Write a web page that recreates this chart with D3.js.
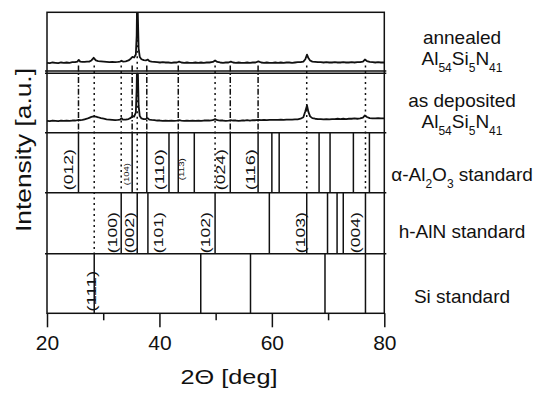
<!DOCTYPE html>
<html>
<head>
<meta charset="utf-8">
<script src="https://cdn.jsdelivr.net/npm/d3@7"></script>
<style>
  body { margin: 0; background: #fff; }
  svg { display: block; }
  text { font-family: "Liberation Sans", Arial, Helvetica, sans-serif; fill: #111; }
</style>
</head>
<body>
<svg id="chart" width="540" height="398"></svg>
<script>
// Diffraction angle grid (deg) shared by both measured patterns
const twoTheta = [20, 20.5, 21, 21.5, 22, 22.5, 23, 23.5, 24, 24.5,
  25, 25.4, 25.65, 25.9, 26.3, 26.7, 27.1, 27.5, 27.9, 28.3,
  28.7, 29.1, 29.6, 30.1, 30.6, 31.1, 31.6, 32.1, 32.6, 33.0,
  33.25, 33.5, 34.0, 34.5, 34.9, 35.2, 35.5, 35.8, 35.95, 36.05,
  36.15, 36.3, 36.5, 36.8, 37.2, 37.6, 37.9, 38.2, 38.6, 39.1,
  39.6, 40.1, 40.6, 41.1, 41.6, 42.1, 42.6, 43.1, 43.5, 43.9,
  44.4, 44.9, 45.4, 45.9, 46.4, 46.9, 47.4, 47.9, 48.4, 48.9,
  49.5, 49.9, 50.3, 50.8, 51.3, 51.8, 52.3, 52.7, 53.1, 53.6,
  54.1, 54.6, 55.1, 55.6, 56.1, 56.6, 57.1, 57.6, 58.1, 58.6,
  59.1, 59.6, 60.1, 60.6, 61.1, 61.6, 62.1, 62.6, 63.1, 63.6,
  64.1, 64.6, 65.1, 65.6, 65.95, 66.25, 66.5, 66.8, 67.2, 67.7,
  68.2, 68.7, 69.2, 69.7, 70.2, 70.7, 71.2, 71.7, 72.2, 72.7,
  73.2, 73.7, 74.2, 74.7, 75.2, 75.7, 76.2, 76.55, 76.9, 77.4,
  77.9, 78.4, 78.9, 79.4, 80];

// Annealed Al54Si5N41 (a.u.)
const annealed = [14, 13.5, 14.5, 14, 13.5, 14.5, 14, 14.5, 14, 15,
  15, 16, 19, 16, 15.5, 15.5, 16, 16, 18, 22.5,
  18, 17, 16.5, 16, 15.5, 15, 15.5, 15, 15.5, 16,
  17.5, 16, 16.5, 18, 21, 24, 23, 28, 60, 140,
  100, 38, 24, 20, 18.5, 18, 19.5, 17, 16, 15.5,
  15, 14.5, 15, 14.5, 14.5, 14, 14.5, 14.5, 16, 14.5,
  14, 14.5, 14, 14, 14.5, 14, 14.5, 14, 14.5, 14.5,
  15.5, 18, 15.5, 14.5, 14, 14.5, 14.5, 16, 14.5, 14,
  14.5, 14, 14, 14.5, 14, 14.5, 14.5, 16.5, 14.5, 14,
  14.5, 14, 14, 14.5, 14, 14.5, 14, 14.5, 14.5, 14,
  14.5, 15, 15, 16, 20, 28, 22, 18, 16, 15.5,
  15, 15, 14.5, 15, 14.5, 14.5, 15, 14.5, 14.5, 15,
  14.5, 14.5, 15, 14.5, 15, 15, 16, 19.5, 17, 15.5,
  15, 14.5, 15, 14.5, 14.5];

// As-deposited Al54Si5N41 (a.u.)
const asDeposited = [20, 19.5, 20.5, 20, 19.5, 20.5, 20, 20.5, 20, 20.5,
  20.5, 21, 21.5, 21, 21.5, 22.5, 23.5, 25, 26.5, 27.5,
  27, 26, 24.5, 23.5, 22.5, 22, 21.5, 21, 21.5, 22,
  24.5, 22, 22, 23, 25, 28, 27, 34, 75, 140,
  110, 45, 28, 24, 23, 23, 24.5, 22, 21.5, 21,
  20.5, 20.5, 20, 20.5, 20, 20.5, 20, 20.5, 21, 20.5,
  20, 20.5, 20, 20.5, 20, 20.5, 20, 20.5, 20.5, 20.5,
  21, 23, 21, 20.5, 20.5, 20, 20.5, 21, 20.5, 20.5,
  20, 20.5, 20.5, 21, 20.5, 21, 21, 21.5, 21, 21.5,
  21, 21.5, 21.5, 21.5, 21.5, 22, 21.5, 22, 22, 22,
  22.5, 22.5, 23.5, 26, 36, 46, 35, 27.5, 24.5, 23.5,
  23, 23, 22.5, 23, 22.5, 23, 23, 23.5, 23, 23.5,
  23, 23.5, 23.5, 24, 23.5, 24, 25.5, 29, 26.5, 24.5,
  24, 24, 24.5, 24, 24];

// Reference line positions (deg)
const aluminaLines = [25.6, 35.15, 37.75, 41.7, 43.35, 46.2, 52.6, 57.55, 60.0, 61.3, 68.4, 70.35, 74.5, 77.35];
const alnLines = [33.2, 36.05, 37.95, 49.9, 59.55, 66.2, 69.9, 71.6, 72.7, 76.65];
const siLines = [28.4, 47.35, 56.2, 69.45, 76.65];

// Miller indices and where they sit (deg)
const aluminaHkl = ["(012)", "(104)", "(110)", "(113)", "(024)", "(116)"];
const aluminaHklAt = [23.8, 34.05, 39.9, 43.95, 50.8, 56.05];
const aluminaHklMinor = [false, true, false, true, false, false];
const alnHkl = ["(100)", "(002)", "(101)", "(102)", "(103)", "(004)"];
const alnHklAt = [31.5, 34.6, 39.75, 48.2, 65.0, 74.8];
const siHkl = ["(111)"];
const siHklAt = [27.8];

// Guide lines tying measured peaks to reference lines
const guideAt = [25.6, 28.4, 33.2, 35.15, 36.05, 37.75, 43.35, 49.9, 52.6, 57.55, 66.2, 76.65];
const guideTo = ["alumina", "si", "aln", "alumina", "aln", "alumina", "alumina", "aln", "alumina", "alumina", "aln", "aln"];
const guideFrom = ["trace", "trace", "trace", "trace", "top", "trace", "trace", "trace", "trace", "trace", "trace", "trace"];

const xMajor = [20, 40, 60, 80];
const xMinor = [30, 50, 70];

(function draw() {
  const svg = d3.select("#chart");
  const pL = 47, pR = 384.3, pT = 12.3, pB = 313.3;
  const x = d3.scaleLinear().domain([20, 80]).range([pL, pR]);

  const bands = {
    annealed: [pT, 71],
    deposited: [73.3, 132.7],
    alumina: [132.7, 192.7],
    aln: [192.7, 253.7],
    si: [253.7, 313.3]
  };

  const yAnn = d3.scaleLinear().domain([0, 100]).range([bands.annealed[1], bands.annealed[0]]);
  const yDep = d3.scaleLinear().domain([0, 100]).range([bands.deposited[1], bands.deposited[0]]);

  const defs = svg.append("defs");
  function clip(id, b) {
    defs.append("clipPath").attr("id", id)
      .append("rect").attr("x", pL - 3).attr("y", b[0]).attr("width", pR - pL + 6).attr("height", b[1] - b[0]);
  }
  clip("clipAnn", bands.annealed);
  clip("clipDep", bands.deposited);

  // Guide lines
  const dashFor = { alumina: "6,2,1.6,2", aln: "2,3.5", si: "2,3.5" };
  svg.append("g").selectAll("line").data(guideAt).join("line")
    .attr("x1", d => x(d)).attr("x2", d => x(d))
    .attr("y1", (d, i) => guideFrom[i] === "top" ? pT : 65.5)
    .attr("y2", (d, i) => bands[guideTo[i]][0])
    .attr("stroke", "#111").attr("stroke-width", 1.5)
    .attr("stroke-dasharray", (d, i) => dashFor[guideTo[i]]);

  // Reference lines
  function refLines(vals, b) {
    svg.append("g").selectAll("line").data(vals).join("line")
      .attr("x1", d => x(d)).attr("x2", d => x(d))
      .attr("y1", b[0]).attr("y2", b[1])
      .attr("stroke", "#111").attr("stroke-width", 1.5);
  }
  refLines(aluminaLines, bands.alumina);
  refLines(alnLines, bands.aln);
  refLines(siLines, bands.si);

  // Measured patterns
  const idx = twoTheta.map((t, i) => i);
  const lineAnn = d3.line().x(i => x(twoTheta[i])).y(i => yAnn(annealed[i]));
  const lineDep = d3.line().x(i => x(twoTheta[i])).y(i => yDep(asDeposited[i]));
  svg.append("path").attr("d", lineAnn(idx)).attr("clip-path", "url(#clipAnn)")
    .attr("fill", "none").attr("stroke", "#111").attr("stroke-width", 1.8).attr("stroke-linejoin", "round");
  svg.append("path").attr("d", lineDep(idx)).attr("clip-path", "url(#clipDep)")
    .attr("fill", "none").attr("stroke", "#111").attr("stroke-width", 1.8).attr("stroke-linejoin", "round");

  // Frame and panel dividers
  svg.append("rect").attr("x", pL).attr("y", pT).attr("width", pR - pL).attr("height", pB - pT)
    .attr("fill", "none").attr("stroke", "#111").attr("stroke-width", 1.5);
  const dividers = [bands.annealed[1], bands.deposited[0], bands.deposited[1], bands.alumina[1], bands.aln[1]];
  svg.append("g").selectAll("line").data(dividers).join("line")
    .attr("x1", pL - 2).attr("x2", pR + 2).attr("y1", d => d).attr("y2", d => d)
    .attr("stroke", "#111").attr("stroke-width", 1.4);

  // Miller index labels
  function hkl(labels, at, b, minor, bottomPad) {
    svg.append("g").selectAll("text").data(labels).join("text")
      .attr("transform", (d, i) => `translate(${x(at[i])},${b[1] - bottomPad[i]}) rotate(-90)`)
      .attr("dy", "0.36em")
      .attr("font-size", (d, i) => minor[i] ? 7 : 13.5)
      .attr("textLength", (d, i) => minor[i] ? 22 : 41)
      .attr("lengthAdjust", "spacingAndGlyphs")
      .text(d => d);
  }
  hkl(aluminaHkl, aluminaHklAt, bands.alumina, aluminaHklMinor, [2.5, 7.5, 2.5, 12.5, 2.5, 2.5]);
  hkl(alnHkl, alnHklAt, bands.aln, [false, false, false, false, false, false], [0.5, 0.5, 0.5, 0.5, 0.5, 0.5]);
  hkl(siHkl, siHklAt, bands.si, [false], [1.5]);

  // Bottom axis
  const axMajor = d3.axisBottom(x).tickValues(xMajor).tickSize(14).tickPadding(8).tickFormat(d3.format("d"));
  const axMinor = d3.axisBottom(x).tickValues(xMinor).tickSize(7).tickFormat("");
  const gMaj = svg.append("g").attr("transform", `translate(0,${pB})`).call(axMajor);
  const gMin = svg.append("g").attr("transform", `translate(0,${pB})`).call(axMinor);
  [gMaj, gMin].forEach(g => {
    g.select(".domain").remove();
    g.selectAll(".tick line").attr("stroke", "#111").attr("stroke-width", 1.5);
  });
  gMaj.selectAll(".tick text").attr("font-size", 21).attr("fill", "#111")
    .attr("font-family", "'Liberation Sans', Arial, sans-serif");

  // Axis titles
  svg.append("text").attr("x", 229).attr("y", 384).attr("text-anchor", "middle")
    .attr("font-size", 21).attr("textLength", 97).attr("lengthAdjust", "spacingAndGlyphs")
    .text("2Θ [deg]");
  svg.append("text").attr("transform", "translate(31,150) rotate(-90)").attr("text-anchor", "middle")
    .attr("font-size", 22).attr("textLength", 164).attr("lengthAdjust", "spacingAndGlyphs")
    .text("Intensity [a.u.]");

  // Panel names on the right
  const cx = 462;
  function plain(txt, y) {
    svg.append("text").attr("x", cx).attr("y", y).attr("text-anchor", "middle").attr("font-size", 19).text(txt);
  }
  function formula(parts, y) {
    const t = svg.append("text").attr("x", cx).attr("y", y).attr("text-anchor", "middle").attr("font-size", 19);
    parts.forEach(p => {
      t.append("tspan").attr("font-size", p.sub ? 12 : 19).attr("dy", p.sub ? 7 : (p.back ? -7 : 0)).text(p.t);
    });
  }
  plain("annealed", 44);
  const comp = [{ t: "Al" }, { t: "54", sub: true }, { t: "Si", back: true }, { t: "5", sub: true }, { t: "N", back: true }, { t: "41", sub: true }];
  formula(comp, 65);
  plain("as deposited", 107);
  formula(comp, 128);
  formula([{ t: "α-Al" }, { t: "2", sub: true }, { t: "O", back: true }, { t: "3", sub: true }, { t: " standard", back: true }], 181);
  plain("h-AlN standard", 238);
  plain("Si standard", 303);
})();
</script>
</body>
</html>
